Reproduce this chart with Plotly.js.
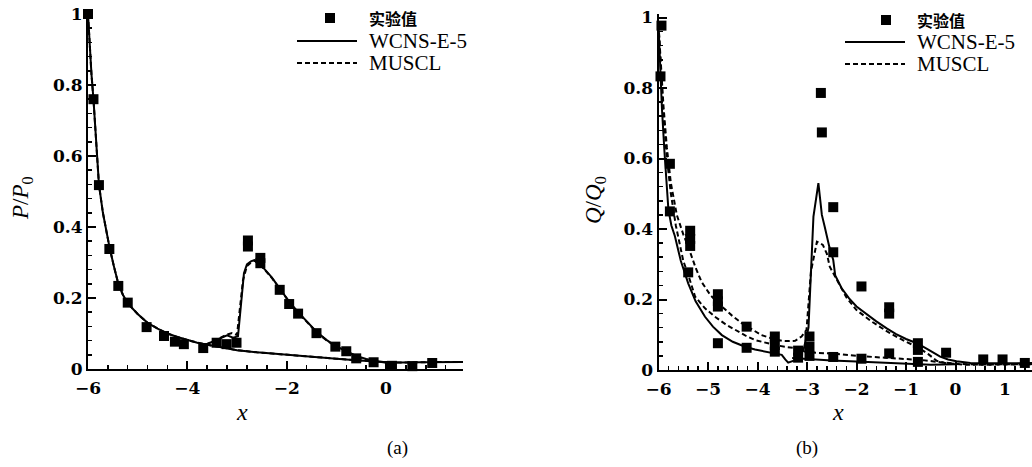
<!DOCTYPE html>
<html>
<head>
<meta charset="utf-8">
<script src="https://cdn.plot.ly/plotly-3.0.1.min.js"></script>
<style>html,body{margin:0;padding:0;background:#fff;}#chart{width:1032px;height:467px;}</style>
</head>
<body>
<div id="chart"></div>
<script>
// ---------- Panel (a): P/P0 ----------
const expA_x = [-6.0, -5.89, -5.78, -5.57, -5.39, -5.20, -4.82, -4.47, -4.25, -4.07, -3.68, -3.41, -3.21, -3.01, -2.78, -2.78, -2.53, -2.53, -2.14, -1.95, -1.77, -1.40, -1.02, -0.80, -0.60, -0.25, 0.12, 0.53, 0.93];
const expA_y = [1.0, 0.76, 0.518, 0.338, 0.234, 0.187, 0.118, 0.093, 0.077, 0.070, 0.059, 0.074, 0.070, 0.074, 0.362, 0.345, 0.313, 0.298, 0.223, 0.183, 0.156, 0.101, 0.063, 0.050, 0.030, 0.019, 0.009, 0.008, 0.017];

const wcnsA_x = [-6.0, -5.97, -5.93, -5.89, -5.84, -5.78, -5.70, -5.62, -5.57, -5.48, -5.39, -5.30, -5.20, -5.00, -4.80, -4.60, -4.40, -4.20, -4.00, -3.80, -3.62,
  -3.50, -3.35, -3.20, -3.08, -2.98, -2.86, -2.80, -2.72, -2.65, -2.58, -2.45, -2.30, -2.14, -1.95, -1.77, -1.60, -1.40, -1.20, -1.02, -0.80, -0.60, -0.40, -0.20, 0.00, 0.30, 0.70, 1.10, 1.55,
  null,
  -3.62, -3.30, -3.00, -2.60, -2.20, -1.80, -1.40, -1.00, -0.60, -0.30, 0.00];
const wcnsA_y = [1.0, 0.92, 0.83, 0.76, 0.66, 0.52, 0.44, 0.38, 0.345, 0.29, 0.240, 0.210, 0.185, 0.155, 0.130, 0.114, 0.100, 0.090, 0.081, 0.074, 0.069,
  0.076, 0.085, 0.095, 0.088, 0.092, 0.270, 0.295, 0.303, 0.307, 0.300, 0.282, 0.258, 0.226, 0.190, 0.160, 0.135, 0.105, 0.082, 0.065, 0.050, 0.037, 0.028, 0.022, 0.019, 0.018, 0.019, 0.020, 0.020,
  null,
  0.069, 0.060, 0.053, 0.047, 0.042, 0.038, 0.033, 0.029, 0.025, 0.021, 0.019];

const musclA_x = [-6.0, -5.97, -5.93, -5.89, -5.84, -5.78, -5.70, -5.62, -5.57, -5.48, -5.39, -5.30, -5.20, -5.00, -4.80, -4.60, -4.40, -4.20, -4.00, -3.80, -3.62,
  -3.50, -3.35, -3.20, -3.10, -3.00, -2.88, -2.80, -2.72, -2.65, -2.58, -2.45, -2.30, -2.14, -1.95, -1.77, -1.60, -1.40, -1.20, -1.02, -0.80, -0.60, -0.40, -0.20, 0.00, 0.30, 0.70, 1.10, 1.55,
  null,
  -3.62, -3.30, -3.00, -2.60, -2.20, -1.80, -1.40, -1.00, -0.60, -0.30, 0.00];
const musclA_y = [1.0, 0.92, 0.83, 0.76, 0.66, 0.52, 0.44, 0.38, 0.345, 0.29, 0.240, 0.210, 0.185, 0.155, 0.130, 0.114, 0.100, 0.090, 0.081, 0.074, 0.069,
  0.077, 0.087, 0.097, 0.101, 0.096, 0.250, 0.290, 0.300, 0.305, 0.299, 0.281, 0.257, 0.225, 0.189, 0.159, 0.134, 0.104, 0.081, 0.064, 0.049, 0.036, 0.027, 0.021, 0.019, 0.018, 0.019, 0.020, 0.020,
  null,
  0.069, 0.060, 0.053, 0.047, 0.042, 0.038, 0.033, 0.029, 0.025, 0.021, 0.019];

// ---------- Panel (b): Q/Q0 ----------
const expB_x = [-5.94, -5.96, -5.77, -5.77, -5.36, -5.36, -5.36, -5.40, -4.80, -4.80, -4.80, -4.80, -4.22, -4.22, -3.65, -3.65, -3.65, -3.18, -3.18, -2.95, -2.95, -2.95, -2.72, -2.70, -2.47, -2.47, -2.47, -1.90, -1.90, -1.34, -1.34, -1.34, -0.76, -0.76, -0.76, -0.19, 0.56, 0.95, 1.40];
const expB_y = [0.977, 0.833, 0.585, 0.450, 0.395, 0.372, 0.352, 0.277, 0.215, 0.195, 0.180, 0.076, 0.123, 0.063, 0.095, 0.071, 0.052, 0.055, 0.035, 0.095, 0.066, 0.040, 0.786, 0.674, 0.462, 0.334, 0.037, 0.237, 0.032, 0.178, 0.160, 0.047, 0.076, 0.057, 0.023, 0.049, 0.030, 0.030, 0.020];

const wcnsB_x = [-6.0, -5.97, -5.93, -5.88, -5.80, -5.74, -5.67, -5.55, -5.40, -5.25, -5.06, -4.90, -4.72, -4.50, -4.25, -4.05, -3.85, -3.65, -3.51, -3.44, -3.38, -3.24, -3.07, -2.97, -2.87, -2.77, -2.70, -2.64, -2.55, -2.47, -2.43, -2.30, -2.15, -2.00, -1.80, -1.60, -1.39, -1.20, -1.00, -0.78, -0.55, -0.31, -0.15, 0.02, 0.30, 0.70, 1.10, 1.55,
  null,
  -3.30, -3.00, -2.50, -2.00, -1.50, -1.00, -0.50, 0.00];
const wcnsB_y = [0.98, 0.86, 0.74, 0.62, 0.455, 0.41, 0.38, 0.31, 0.246, 0.195, 0.151, 0.123, 0.099, 0.080, 0.066, 0.058, 0.052, 0.047, 0.043, 0.030, 0.021, 0.028, 0.057, 0.120, 0.435, 0.530, 0.440, 0.405, 0.350, 0.312, 0.268, 0.232, 0.203, 0.180, 0.158, 0.138, 0.118, 0.102, 0.088, 0.076, 0.058, 0.038, 0.030, 0.025, 0.020, 0.019, 0.019, 0.020,
  null,
  0.034, 0.031, 0.027, 0.024, 0.021, 0.018, 0.015, 0.016];

const musclB_x = [-6.0, -5.95, -5.90, -5.83, -5.75, -5.63, -5.50, -5.40, -5.25, -5.13, -4.95, -4.72, -4.52, -4.32, -4.10, -3.92, -3.70, -3.51, -3.36, -3.24, -3.11, -3.01, -2.92, -2.80, -2.68, -2.60, -2.54, -2.40, -2.20, -2.00, -1.70, -1.32, -1.00, -0.78, -0.55, -0.38, -0.18, 0.20, 0.80, 1.55,
  null,
  -6.0, -5.95, -5.90, -5.83, -5.75, -5.65, -5.50, -5.40, -5.26, -5.06, -4.86, -4.65, -4.45, -4.25, -4.05, -3.85, -3.65, -3.45, -3.24, -3.00, -2.53, -2.00, -1.33, -0.66, -0.30, 0.00, 0.50, 1.55];
const musclB_y = [0.98, 0.86, 0.75, 0.63, 0.53, 0.44, 0.385, 0.35, 0.29, 0.250, 0.212, 0.180, 0.155, 0.133, 0.114, 0.099, 0.089, 0.083, 0.082, 0.083, 0.095, 0.114, 0.280, 0.364, 0.355, 0.330, 0.293, 0.255, 0.205, 0.170, 0.138, 0.104, 0.080, 0.066, 0.045, 0.026, 0.019, 0.015, 0.016, 0.017,
  null,
  0.98, 0.84, 0.72, 0.60, 0.50, 0.41, 0.31, 0.27, 0.208, 0.175, 0.151, 0.130, 0.114, 0.098, 0.085, 0.077, 0.071, 0.066, 0.062, 0.050, 0.047, 0.040, 0.033, 0.028, 0.022, 0.018, 0.015, 0.016];

// ---------- Text ----------
const legendLabels = ['实验值', 'WCNS-E-5', 'MUSCL'];
const yTitleA = '<i>P</i>/<i>P</i><sub>0</sub>';
const yTitleB = '<i>Q</i>/<i>Q</i><sub>0</sub>';
const xTitle = '<i>x</i>';
const captions = ['(a)', '(b)'];

// ---------- Layout helpers ----------
const W = 1032, H = 467;
const px = v => v / W;
const py = v => 1 - v / H;
const serif = 'DejaVu Serif, Liberation Serif, serif';
const times = 'Liberation Serif, serif';

const markerStyle = {symbol: 'square', size: 10, color: '#000'};
const solid = {color: '#000', width: 2};
const dashed = {color: '#000', width: 2, dash: '5px,3px'};

const traces = [
  {x: musclA_x, y: musclA_y, xaxis: 'x', yaxis: 'y', mode: 'lines', line: dashed, connectgaps: false, name: 'MUSCL'},
  {x: wcnsA_x, y: wcnsA_y, xaxis: 'x', yaxis: 'y', mode: 'lines', line: solid, connectgaps: false, name: 'WCNS-E-5'},
  {x: expA_x, y: expA_y, xaxis: 'x', yaxis: 'y', mode: 'markers', marker: markerStyle, cliponaxis: false, name: '实验值'},
  {x: musclB_x, y: musclB_y, xaxis: 'x2', yaxis: 'y2', mode: 'lines', line: dashed, connectgaps: false, name: 'MUSCL'},
  {x: wcnsB_x, y: wcnsB_y, xaxis: 'x2', yaxis: 'y2', mode: 'lines', line: solid, connectgaps: false, name: 'WCNS-E-5'},
  {x: expB_x, y: expB_y, xaxis: 'x2', yaxis: 'y2', mode: 'markers', marker: markerStyle, cliponaxis: false, name: '实验值'}
];

const tickFont = {family: serif, size: 17, color: '#000', weight: 'bold'};
function xAxis(domain, range, dtick, minor) {
  return {domain, range, dtick, tick0: 0, showline: true, linewidth: 2, linecolor: '#000',
    ticks: 'inside', ticklen: 8, tickwidth: 2, tickcolor: '#000', showgrid: false, zeroline: false,
    tickfont: tickFont, ticklabelstandoff: 3, fixedrange: true,
    minor: {dtick: minor, ticks: 'inside', ticklen: 4, tickwidth: 1.5, tickcolor: '#000', showgrid: false}};
}
function yAxis(domain, range, anchor) {
  return {domain, range, anchor, dtick: 0.2, tick0: 0, showline: true, linewidth: 2, linecolor: '#000',
    ticks: 'inside', ticklen: 8, tickwidth: 2, tickcolor: '#000', showgrid: false, zeroline: false,
    tickfont: tickFont, ticklabelstandoff: 0, fixedrange: true,
    minor: {dtick: 0.04, ticks: 'inside', ticklen: 4, tickwidth: 1.5, tickcolor: '#000', showgrid: false}};
}

const shapes = [];
const annotations = [];
function addLegend(mx, tx, yRows) {
  shapes.push({type: 'rect', xref: 'paper', yref: 'paper', x0: px(mx - 5), x1: px(mx + 5), y0: py(yRows[0] + 5), y1: py(yRows[0] - 5), fillcolor: '#000', line: {width: 0}});
  shapes.push({type: 'line', xref: 'paper', yref: 'paper', x0: px(tx - 70), x1: px(tx - 10), y0: py(yRows[1]), y1: py(yRows[1]), line: {color: '#000', width: 2}});
  shapes.push({type: 'line', xref: 'paper', yref: 'paper', x0: px(tx - 70), x1: px(tx - 10), y0: py(yRows[2]), y1: py(yRows[2]), line: {color: '#000', width: 2, dash: '5px,3px'}});
  annotations.push({xref: 'paper', yref: 'paper', x: px(tx), y: py(yRows[0]), xanchor: 'left', yanchor: 'middle', showarrow: false, text: '<b>' + legendLabels[0] + '</b>', font: {family: 'Noto Sans CJK SC', size: 16, color: '#000'}});
  annotations.push({xref: 'paper', yref: 'paper', x: px(tx), y: py(yRows[1]), xanchor: 'left', yanchor: 'middle', showarrow: false, text: legendLabels[1], font: {family: times, size: 21, color: '#000'}});
  annotations.push({xref: 'paper', yref: 'paper', x: px(tx), y: py(yRows[2]), xanchor: 'left', yanchor: 'middle', showarrow: false, text: legendLabels[2], font: {family: times, size: 21, color: '#000'}});
}
addLegend(330, 367, [18, 41, 63]);
addLegend(886, 915, [20, 42, 64]);

function addText(text, x, y, size, angle, fam) {
  annotations.push({xref: 'paper', yref: 'paper', x: px(x), y: py(y), xanchor: 'center', yanchor: 'middle', showarrow: false,
    text, textangle: angle || 0, font: {family: fam || times, size, color: '#000'}});
}
addText(yTitleA, 22, 198, 23, -90);
addText(yTitleB, 595, 200, 23, -90);
addText(xTitle, 242, 412, 24, 0);
addText(xTitle, 838, 412, 24, 0);
addText(captions[0], 397, 448, 19, 0);
addText(captions[1], 807, 448, 19, 0);

const layout = {
  width: W, height: H,
  margin: {l: 0, r: 0, t: 0, b: 0, pad: 0},
  paper_bgcolor: '#fff', plot_bgcolor: '#fff',
  showlegend: false,
  xaxis: Object.assign(xAxis([px(88), px(463)], [-6, 1.55], 2, 0.4), {anchor: 'y'}),
  yaxis: yAxis([1 - 369 / H, 1 - 14 / H], [0, 1.0], 'x'),
  xaxis2: Object.assign(xAxis([px(658.5), 1], [-6, 1.545], 1, 0.2), {anchor: 'y2'}),
  yaxis2: yAxis([1 - 370 / H, 1 - 14 / H], [0, 1.01], 'x2'),
  shapes, annotations
};

Plotly.newPlot('chart', traces, layout, {displayModeBar: false, staticPlot: true});
</script>
</body>
</html>
